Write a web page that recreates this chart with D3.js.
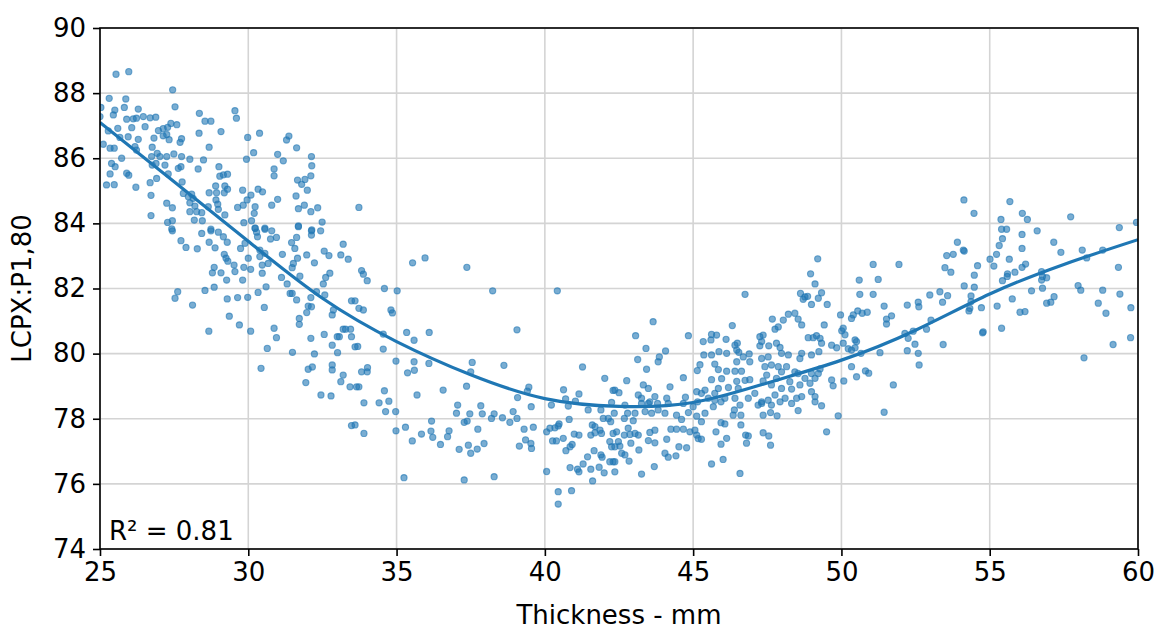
<!DOCTYPE html>
<html><head><meta charset="utf-8">
<script src="https://cdn.jsdelivr.net/npm/d3@7"></script>
<style>body{margin:0;background:#fff}svg{display:block}text{font-family:"DejaVu Sans",sans-serif}</style>
</head><body><svg id="c" width="1158" height="630"></svg>
<script>
const xTicks=[25,30,35,40,45,50,55,60];
const yTicks=[74,76,78,80,82,84,86,88,90];
const fitX=[25,27.5,30,32.5,35,37.5,40,42.5,45,47.5,50,52.5,55,57.5,60];
const fitY=[87.1,85.28,83.45,81.7,80.37,79.35,78.62,78.38,78.5,79.1,79.8,80.72,81.83,82.74,83.5];
const rSquared="R² = 0.81";
const points=[
[25.54,88.58],[25.97,88.66],[25.31,87.84],[25.87,87.82],[27.45,88.1],[25.03,87.56],[25.5,87.48],[25.82,87.56],[26.29,87.51],[25.45,87.33],[25.9,87.2],[26.12,87.21],[26.23,87.23],[26.46,87.28],[26.69,87.24],[26.88,87.26],[27.53,87.58],[28.35,87.38],[28.54,87.14],[28.74,87.14],[29.55,87.46],[29.6,87.23],[25.0,87.28],[25.28,86.84],[25.6,86.92],[26.07,86.94],[26.52,86.97],[26.97,86.85],[27.13,86.91],[27.28,86.95],[27.39,87.07],[27.59,87.03],[27.13,86.69],[27.25,86.73],[27.33,86.57],[27.75,86.6],[27.7,86.49],[26.82,86.62],[25.95,86.66],[26.29,86.58],[25.67,86.64],[25.11,86.43],[25.34,86.31],[25.48,86.31],[26.18,86.36],[26.23,86.25],[26.76,86.34],[26.93,86.15],[26.74,86.05],[27.02,86.05],[27.25,86.05],[27.49,86.13],[27.75,86.05],[28.03,85.97],[28.68,86.34],[28.49,85.95],[29.08,86.82],[28.34,86.77],[29.98,86.64],[30.38,86.77],[30.18,86.17],[29.94,85.97],[31.29,86.56],[31.37,86.68],[31.63,86.32],[30.99,86.12],[31.18,85.92],[32.13,86.05],[32.14,85.77],[30.87,85.67],[30.87,85.46],[32.11,85.46],[31.66,85.33],[31.91,85.35],[31.8,85.2],[31.99,85.02],[25.39,85.84],[25.51,85.74],[25.73,86.0],[25.34,85.52],[25.9,85.54],[25.97,85.48],[25.22,85.18],[25.48,85.19],[26.21,85.11],[26.69,85.25],[26.91,85.38],[26.76,85.79],[26.89,85.84],[27.19,85.79],[27.3,85.52],[27.77,85.27],[27.64,85.69],[27.73,85.74],[28.31,85.67],[29.01,85.74],[29.04,85.45],[29.16,85.49],[29.3,85.51],[29.21,85.15],[29.3,85.05],[28.9,85.15],[28.68,84.94],[28.93,84.94],[29.19,84.94],[28.91,84.72],[28.97,84.59],[28.99,84.43],[28.65,84.51],[29.21,84.26],[27.81,84.92],[27.98,84.82],[28.09,84.9],[28.14,84.77],[28.03,84.63],[28.2,84.53],[28.03,84.36],[28.26,84.36],[28.43,84.33],[28.18,84.1],[28.45,84.08],[27.25,84.62],[27.44,84.48],[26.72,84.86],[26.72,84.24],[27.28,84.03],[27.44,84.08],[29.81,85.02],[30.09,84.87],[30.33,85.05],[30.48,84.97],[29.64,84.49],[29.83,84.56],[29.96,84.72],[30.23,84.51],[30.2,84.31],[30.11,84.08],[29.85,84.02],[30.79,84.56],[30.99,84.74],[31.61,84.84],[31.89,84.56],[31.69,84.45],[32.11,84.36],[32.34,84.48],[32.49,84.04],[31.69,83.92],[32.14,83.8],[30.56,83.85],[30.23,83.85],[28.74,83.82],[27.42,83.83],
[33.73,84.49],
[27.44,83.77],[27.73,83.47],[27.9,83.26],[28.28,83.22],[28.43,83.69],[28.74,83.77],[28.99,83.73],[29.16,83.59],[28.68,83.42],[28.88,83.25],[29.29,83.42],[29.74,83.23],[29.89,83.39],[30.23,83.85],[30.28,83.73],[30.31,83.59],[30.56,83.82],[30.79,83.77],[30.95,83.57],[30.75,83.52],[31.63,83.57],[31.46,83.41],[31.57,83.23],[32.13,83.77],[32.13,83.64],[32.44,83.77],[31.69,83.9],[29.19,83.05],[29.25,82.93],[29.31,82.84],[30.0,82.93],[30.39,83.18],[30.56,83.08],[30.39,82.98],[31.15,83.05],[31.66,82.93],[31.97,83.03],[32.23,82.79],[32.56,83.15],[32.72,83.01],[33.2,83.36],[33.12,83.03],[33.37,82.9],[28.85,82.65],[28.79,82.48],[29.08,82.48],[29.52,82.72],[29.55,82.52],[29.85,82.65],[30.08,82.59],[30.47,82.72],[30.47,82.47],[30.67,82.77],[29.27,82.26],[29.81,82.26],[31.12,82.34],[31.31,82.14],[31.48,82.64],[31.52,82.77],[31.74,82.38],[32.53,82.14],[32.61,82.34],[32.75,82.47],[28.85,82.04],[28.54,81.94],[27.62,81.9],[27.53,81.7],[28.12,81.49],[29.29,81.68],[29.64,81.72],[29.98,81.73],[30.33,81.88],[30.6,82.05],[30.54,81.42],[31.41,81.85],[31.48,81.85],[31.63,81.65],[32.02,81.46],[32.13,81.44],[31.97,81.26],[32.11,81.72],[32.3,81.9],[32.58,81.8],[32.83,81.19],[32.87,81.34],[33.48,81.62],[29.36,81.15],[29.7,80.88],[30.08,80.69],[28.67,80.69],[30.87,80.78],[30.95,80.49],[31.72,81.08],[31.72,80.9],[32.11,80.47],[32.56,80.59],[33.0,80.52],[33.07,80.52],[33.2,80.75],[33.28,80.75],[33.45,80.75],[32.83,80.26],[33.01,80.03],[33.48,80.52],[33.6,80.21],[30.64,80.16],[31.49,80.04],[32.23,79.99],[30.43,79.55],[32.02,79.52],[32.16,79.59],[32.83,79.65],[32.83,79.5],[33.2,79.34],[33.12,79.14],[33.43,78.98],[31.94,79.11],[32.45,78.73],[32.79,78.7],
[33.82,82.55],[33.88,82.44],[34.01,82.24],[35.54,82.79],[35.96,82.94],[37.37,82.65],[34.59,82.0],[35.02,81.93],[38.24,81.93],[40.42,81.93],[33.6,81.62],[33.73,81.39],[33.88,81.34],[34.81,81.34],[34.86,81.25],[34.55,80.6],[35.34,80.65],[35.59,80.41],[36.1,80.65],[39.06,80.73],[33.69,80.22],[34.55,80.14],[34.98,79.77],[35.59,79.75],[36.09,79.7],[37.55,79.73],[37.5,79.44],[38.62,79.64],[41.27,79.59],[33.82,79.44],[34.02,79.57],[34.01,79.44],[35.37,79.41],[35.6,79.49],[42.02,79.24],[33.65,78.98],[33.73,78.98],[34.59,78.86],[34.74,78.54],[34.41,78.49],[33.9,78.49],[35.69,78.73],[36.57,78.88],[37.36,79.0],[39.08,78.65],[39.41,78.85],[39.46,78.97],[40.63,78.89],[40.7,78.61],[41.03,78.54],[41.15,78.76],[42.3,78.87],[42.25,78.5],[37.06,78.42],[37.84,78.4],[40.22,78.42],
[33.48,77.79],
[34.63,78.22],[34.97,78.22],[33.6,77.81],[33.9,77.55],[34.98,77.63],[35.3,77.74],[35.53,77.32],[35.84,77.53],[36.16,77.62],[36.22,77.43],[36.18,77.93],[36.48,77.21],[36.72,77.45],[36.77,77.63],[37.02,78.17],[37.28,77.89],[37.38,77.93],[37.47,78.15],[37.89,78.15],[38.2,78.01],[38.29,78.15],[38.57,78.03],[38.82,77.89],[38.93,78.22],[39.06,78.01],[39.54,78.37],[37.74,77.68],[37.42,77.19],[37.11,77.06],[37.5,76.94],[37.72,77.07],[37.95,77.24],[39.3,77.68],[39.61,77.74],[39.35,77.35],[39.53,77.24],[39.55,77.09],[39.14,77.16],[35.25,76.19],[37.28,76.12],[38.29,76.22],[40.06,77.6],[40.17,77.71],[40.34,77.72],[40.45,77.78],[40.48,77.84],[40.26,77.32],[40.39,77.32],[40.62,77.4],[40.82,77.98],[40.71,77.02],[40.85,77.14],[40.92,77.21],[40.06,76.38],[40.45,75.76],[40.45,75.38],[40.9,75.79],[40.85,76.5],[41.1,76.45],[41.15,76.37],[41.29,76.61],[41.55,76.45],[41.61,76.09],[41.83,76.51],[42.0,76.34],[40.99,77.53],[41.15,77.5],[41.44,76.83],[41.66,77.02],[41.89,76.89],[41.93,76.82],[42.19,76.68],[42.3,76.68],[40.79,78.39],[41.46,78.27],[41.89,78.27],[41.97,78.01],[41.6,77.81],[41.69,77.76],[41.86,77.65],[41.55,77.5],[41.69,77.57],[41.91,77.55],[42.19,77.3],[42.25,77.14],[42.3,77.55],[42.22,77.91],[42.14,78.01],[42.34,78.17],
[42.7,78.42],[43.26,78.47],[43.49,78.47],[43.8,78.47],[44.16,78.47],[44.67,78.47],[45.0,78.37],[45.68,78.37],[45.94,78.52],[42.79,78.17],[43.04,78.17],[43.38,78.22],[43.6,78.17],[43.82,78.27],[44.05,78.17],[44.44,78.11],[44.84,78.19],[45.12,78.08],[45.4,78.17],[42.68,78.01],[42.98,77.94],[44.61,77.98],[45.28,77.91],[45.94,77.88],[46.07,77.84],[42.42,77.6],[42.81,77.71],[42.68,77.5],[42.87,77.52],[43.04,77.55],[43.15,77.5],[43.54,77.58],[43.71,77.65],[44.25,77.68],[44.44,77.68],[44.67,77.68],[44.89,77.6],[45.06,77.65],[45.12,77.5],[45.17,77.39],[45.28,77.37],[42.48,77.3],[42.9,77.25],[43.49,77.33],[43.71,77.26],[44.11,77.37],[44.52,77.14],[44.78,77.11],[45.77,77.6],[46.13,77.4],[45.94,77.22],[45.62,76.61],[46.01,76.75],[46.58,76.32],[46.61,77.81],[46.77,77.5],[46.86,77.47],[46.8,77.25],[47.36,77.57],[47.55,77.47],[47.61,77.19],[49.5,77.6],[49.89,78.09],[49.33,78.4],[48.54,78.25],[47.83,78.09],[47.61,78.19],[47.36,78.11],[46.61,78.11],[46.58,78.42],[46.39,78.27],[46.35,78.11],[47.19,78.42],[47.31,78.47],[47.64,78.42],[47.93,78.52],[48.32,78.47],[49.11,78.52],[42.36,77.14],[42.53,77.16],[42.59,76.94],[42.7,76.89],[42.84,76.7],[42.36,76.68],[42.36,76.37],[43.17,77.04],[43.26,76.3],[43.69,76.53],[44.05,76.94],[44.16,76.82],[44.42,76.86],
[43.06,80.55],[43.65,80.98],[43.41,80.16],[43.13,79.82],[43.43,79.52],[43.82,79.75],[43.86,79.9],[44.07,80.08],[42.76,79.17],[42.36,78.88],[42.5,78.8],[43.32,79.04],[43.49,78.93],[43.71,78.68],[43.15,78.73],[43.26,78.63],[43.54,78.52],[44.22,78.98],[44.11,78.63],[44.67,79.26],[44.84,80.55],[45.34,80.37],[45.6,80.42],[45.62,80.59],[45.79,80.57],[46.11,80.44],[46.32,80.86],[46.75,81.82],[45.36,79.96],[45.62,79.96],[45.87,80.06],[46.13,80.01],[46.41,80.26],[46.49,80.32],[46.47,80.11],[46.54,80.04],[46.69,79.9],[46.89,79.99],[46.91,79.75],[46.47,79.75],[45.14,79.48],[45.23,79.66],[45.73,79.68],[45.85,79.51],[45.62,79.2],[45.96,79.23],[46.13,79.46],[46.41,79.46],[46.63,79.46],[46.75,79.18],[46.91,79.2],[46.47,79.15],[46.52,78.93],[46.19,78.96],[45.85,78.93],[45.73,78.78],[45.4,78.88],[45.28,78.78],[45.51,78.63],[45.73,78.57],[45.15,78.52],[46.07,78.63],[46.41,78.63],[47.25,80.52],[47.31,80.37],[47.36,80.57],[47.25,80.24],[47.55,80.24],[47.81,80.32],[47.93,80.19],[47.76,80.75],[47.67,81.06],[47.87,80.82],[48.04,81.03],[48.21,81.21],[48.43,81.24],[48.66,80.88],[48.54,81.06],[48.62,81.85],[48.77,81.74],[48.86,81.76],[48.71,81.67],[48.99,81.51],[49.22,81.7],[49.33,81.87],[49.52,81.51],[48.96,82.45],[49.11,82.14],[49.2,82.91],[49.42,80.88],[48.88,80.49],[49.05,80.49],[49.16,80.55],[49.28,80.47],[49.33,80.32],[49.24,80.06],[48.99,79.96],[48.66,80.01],[48.6,79.85],[48.21,79.96],[47.98,80.01],[47.53,79.9],[47.31,79.85],[47.64,79.65],[47.42,79.6],[47.87,79.6],[48.15,79.6],[48.43,79.44],[47.98,79.44],[47.81,79.24],[47.48,79.34],[47.36,79.16],[47.64,79.04],[47.98,78.93],[48.26,79.14],[48.54,79.39],[48.77,79.24],[48.99,79.39],[49.22,79.39],[49.28,79.53],[49.11,79.24],[48.94,79.09],[48.6,79.04],[48.32,78.91],[48.99,78.83],[48.66,78.68],[49.11,78.68],[48.49,78.63],[48.1,78.63],[47.76,78.73],[47.53,78.57],[47.31,78.52],[46.86,78.63],[47.08,78.78],[49.67,79.19],[49.72,79.01],[50.08,79.16],[50.34,79.6],[50.51,79.29],[50.81,79.47],[50.92,79.4],[50.66,80.01],[50.23,80.15],[50.06,80.32],[50.12,80.58],[50.01,80.7],[50.06,80.78],[50.34,81.08],[50.4,81.19],[50.55,81.31],[50.7,81.24],[50.87,81.27],[50.6,82.26],[50.62,81.82],[51.07,81.82],[51.07,82.74],[49.97,81.19],[49.67,80.26],[49.84,80.18],[50.46,80.42],[50.51,80.37],[50.46,80.18],[50.34,80.11],[44.74,78.66],[45.12,78.83],
[51.24,82.28],[51.94,82.74],[51.44,81.46],[51.52,81.06],[51.52,80.91],[51.69,81.16],[52.22,81.49],[52.59,81.58],[52.61,81.44],[52.98,81.8],[53.32,81.9],[53.41,81.58],[53.58,81.78],[52.87,80.75],[53.02,81.03],[52.14,80.62],[52.25,80.47],[52.42,80.69],[52.48,80.29],[52.22,80.09],[52.59,80.01],[52.62,79.65],[51.75,79.04],[53.43,80.28],[51.3,80.03],[53.55,83.01],[53.77,83.05],[53.91,83.42],[54.11,83.18],[54.14,83.15],[53.49,82.64],[53.69,82.5],[54.14,82.08],[54.48,82.04],[54.48,82.41],[54.59,82.7],[54.37,81.77],[54.37,81.6],[54.33,81.39],[54.3,81.31],[54.72,81.41],[54.76,80.64],[54.78,80.67],[55.01,82.9],[55.14,82.69],[55.23,83.05],[55.32,83.32],[55.43,83.53],[55.4,83.82],[55.57,83.82],[55.66,82.9],[55.43,82.24],[55.59,82.37],[55.6,82.45],[55.85,82.5],[56.09,82.65],[56.21,82.75],[56.09,83.23],[56.09,83.66],[56.6,83.77],[55.25,81.46],[55.4,80.78],[55.76,81.68],[56.02,81.27],[56.19,81.29],[56.41,81.93],[56.75,82.52],[56.78,82.37],[56.92,82.33],[56.75,82.26],[56.78,82.01],[56.92,81.55],[57.06,81.58],[57.17,81.75],[57.16,83.42],[57.4,83.11],[57.98,82.09],[58.07,81.95],[58.12,83.18],[58.27,82.94],[58.81,83.18],[58.18,79.87],[58.66,81.55],[58.81,81.95],[58.92,81.24],[59.39,81.83],[59.16,80.28],[59.34,82.65],[59.37,83.87],[59.76,81.41],[59.75,80.49],
[59.95,84.03],[57.73,84.2],[54.13,84.72],[54.47,84.31],[55.68,84.67],[56.1,84.31],[56.27,84.12],[55.38,84.12],[51.44,78.2]
];

const W=1158,H=630,m={l:100,r:20,t:28,b:81};
const svg=d3.select("#c");
const x=d3.scaleLinear().domain([25,60]).range([m.l,W-m.r]);
const y=d3.scaleLinear().domain([74,90]).range([H-m.b,m.t]);
const FS=26;

svg.append("defs").append("clipPath").attr("id","clip").append("rect")
 .attr("x",m.l).attr("y",m.t).attr("width",W-m.l-m.r).attr("height",H-m.t-m.b);

const g=svg.append("g");
g.selectAll("line.gx").data(xTicks).join("line").attr("x1",d=>x(d)).attr("x2",d=>x(d))
 .attr("y1",m.t).attr("y2",H-m.b).attr("stroke","#d4d4d4").attr("stroke-width",1.6);
g.selectAll("line.gy").data(yTicks).join("line").attr("y1",d=>y(d)).attr("y2",d=>y(d))
 .attr("x1",m.l).attr("x2",W-m.r).attr("stroke","#d4d4d4").attr("stroke-width",1.6);

svg.append("g").attr("clip-path","url(#clip)").selectAll("circle").data(points).join("circle")
 .attr("cx",d=>x(d[0])).attr("cy",d=>y(d[1])).attr("r",3.1)
 .attr("fill","#1f77b4").attr("fill-opacity",0.6)
 .attr("stroke","#1f77b4").attr("stroke-opacity",0.6).attr("stroke-width",1.1);

const fit=fitX.map((v,i)=>[v,fitY[i]]);
svg.append("path").attr("clip-path","url(#clip)").datum(fit)
 .attr("d",d3.line().x(d=>x(d[0])).y(d=>y(d[1])).curve(d3.curveNatural))
 .attr("fill","none").attr("stroke","#1f77b4").attr("stroke-width",3.2);

const xa=svg.append("g").attr("transform",`translate(0,${H-m.b})`)
 .call(d3.axisBottom(x).tickValues(xTicks).tickFormat(d3.format("d")).tickSize(7).tickPadding(7));
const ya=svg.append("g").attr("transform",`translate(${m.l},0)`)
 .call(d3.axisLeft(y).tickValues(yTicks).tickFormat(d3.format("d")).tickSize(7).tickPadding(7));
[xa,ya].forEach(a=>{a.select(".domain").remove();
 a.selectAll(".tick line").attr("stroke","#000").attr("stroke-width",1.6);
 a.selectAll(".tick text").attr("font-family","DejaVu Sans").attr("font-size",FS).attr("fill","#000");});

svg.append("rect").attr("x",m.l).attr("y",m.t).attr("width",W-m.l-m.r).attr("height",H-m.t-m.b)
 .attr("fill","none").attr("stroke","#000").attr("stroke-width",1.6);

svg.append("text").attr("x",(m.l+W-m.r)/2).attr("y",624).attr("text-anchor","middle")
 .attr("font-size",FS).text("Thickness - mm");
svg.append("text").attr("transform",`translate(31,${(m.t+H-m.b)/2}) rotate(-90)`).attr("text-anchor","middle")
 .attr("font-size",FS).text("LCPX:P1,80");
svg.append("text").attr("x",109).attr("y",540).attr("font-size",FS).text(rSquared);
</script></body></html>
